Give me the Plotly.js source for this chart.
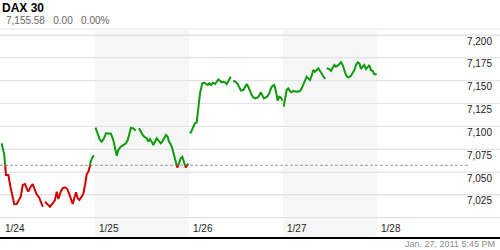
<!DOCTYPE html>
<html><head><meta charset="utf-8">
<script src="https://cdn.plot.ly/plotly-3.0.1.min.js"></script>
<style>html,body{margin:0;padding:0;background:#fff;} #chart{width:500px;height:250px;}</style>
</head><body><div id="chart"></div>
<script>
const chartTitle = 'DAX 30';
const quoteLine = '7,155.58&nbsp;&nbsp;&nbsp;0.00&nbsp;&nbsp;&nbsp;0.00%';
const timestamp = 'Jan. 27, 2011 5:45 PM';
const dayLabels = ['1/24', '1/25', '1/26', '1/27', '1/28'];
const prevClose = 7057.5;
const priceTicks = [7000, 7025, 7050, 7075, 7100, 7125, 7150, 7175, 7200];
const priceTickText = ['', '7,025', '7,050', '7,075', '7,100', '7,125', '7,150', '7,175', '7,200'];

// intraday data per day: time as fraction of the session, index level (null = gap)
const t24 = [0.007,0.035,0.053,0.078,0.103,0.131,0.141,0.167,0.191,0.210,0.231,0.255,0.273,0.290,0.316,0.337,0.354,0.380,0.407,0.426,0.444,null,0.468,0.493,0.521,0.546,0.574,0.593,0.610,0.635,0.656,0.681,0.705,0.727,0.745,0.763,0.780,0.798,0.816,0.833,0.859,0.876,0.894,0.912,0.929,0.939,0.954,0.971,0.989];
const p24 = [7081.5,7068.7,7046.8,7046.8,7032.6,7019.5,7014.8,7015.1,7019.5,7023.1,7035.9,7037.0,7032.3,7028.6,7034.0,7037.0,7032.3,7025.7,7022.0,7017.6,7012.1,null,7017.6,7015.1,7012.1,7015.1,7019.5,7028.6,7020.6,7028.6,7032.3,7033.4,7031.5,7025.7,7021.3,7015.1,7021.3,7027.9,7021.3,7019.5,7023.1,7026.8,7035.9,7047.6,7050.4,7055.9,7061.4,7065.8,7068.2];
const t25 = [0.005,0.024,0.053,0.071,0.096,0.117,0.141,0.170,0.195,0.213,0.231,0.248,0.273,0.301,0.330,0.348,0.365,0.383,0.407,0.433,null,0.468,0.486,0.507,0.524,0.550,0.567,0.585,0.603,0.620,0.638,0.656,0.681,0.699,0.716,0.734,0.755,0.773,0.787,0.805,0.822,0.840,0.858,0.876,0.894,0.912,0.929,0.947,0.965,0.982,0.995];
const p25 = [7098.6,7092.4,7085.1,7083.3,7087.0,7092.4,7092.4,7092.0,7085.1,7077.8,7067.9,7074.2,7077.8,7079.6,7081.5,7085.1,7092.4,7098.6,7097.9,7095.3,null,7097.9,7094.2,7090.6,7088.7,7087.0,7083.3,7086.2,7083.3,7079.6,7083.3,7087.0,7084.0,7081.5,7083.3,7087.0,7090.6,7088.7,7083.3,7080.4,7076.0,7068.7,7061.4,7055.0,7059.6,7065.1,7066.8,7061.4,7055.0,7057.8,7059.2];
const t26 = [0.005,0.021,0.046,0.064,0.082,0.099,0.117,0.141,0.163,0.181,0.199,0.216,0.234,0.255,0.277,0.295,0.312,0.330,0.348,0.365,0.383,0.401,0.418,0.444,null,0.471,0.497,0.518,0.535,0.553,0.578,0.596,0.614,0.631,0.649,0.667,0.684,0.710,0.731,0.745,0.763,0.780,0.798,0.819,0.837,0.854,0.872,0.890,0.907,0.926,0.944,0.961,0.979,0.993];
const p26 = [7093.3,7093.4,7099.7,7103.4,7104.5,7121.6,7136.2,7147.2,7147.8,7146.4,7145.3,7147.2,7145.3,7147.8,7146.4,7148.9,7151.5,7150.0,7148.2,7148.9,7148.2,7146.4,7150.0,7154.4,null,7150.0,7148.9,7146.4,7143.4,7139.1,7139.8,7142.8,7146.4,7143.4,7138.0,7134.4,7131.8,7130.7,7131.8,7133.3,7137.3,7133.3,7130.7,7131.8,7133.3,7136.2,7141.7,7144.5,7145.3,7138.0,7128.1,7132.5,7131.4,7128.1];
const t27 = [0.007,0.021,0.039,0.056,0.074,0.093,0.110,0.146,0.181,0.199,0.216,0.234,0.252,0.269,0.287,0.305,0.322,0.340,0.359,0.376,0.394,0.412,0.429,0.447,null,0.465,0.493,0.511,0.529,0.546,0.564,0.582,0.599,0.617,0.635,0.652,0.670,0.688,0.705,0.723,0.741,0.759,0.777,0.795,0.812,0.830,0.848,0.865,0.883,0.901,0.918,0.936,0.954,0.971,0.997];
const p27 = [7121.6,7130.7,7139.8,7141.7,7138.7,7137.3,7138.7,7138.0,7138.7,7141.7,7146.1,7149.7,7154.4,7152.6,7150.8,7155.5,7161.7,7159.8,7161.7,7163.6,7160.6,7158.1,7155.5,7151.9,null,7163.6,7162.8,7160.9,7163.6,7167.2,7165.3,7166.4,7167.9,7170.8,7167.2,7161.7,7156.2,7153.7,7153.7,7155.5,7158.1,7161.7,7167.2,7170.1,7169.0,7162.8,7165.3,7167.2,7162.8,7165.3,7167.2,7161.7,7160.6,7157.0,7157.0];

const days = [[t24, p24], [t25, p25], [t26, p26], [t27, p27]];
const xs = [], ys = [];
days.forEach(([t, p], d) => {
  t.forEach((v, i) => { xs.push(v === null ? null : d + v); ys.push(p[i]); });
  xs.push(null); ys.push(null);
});

const yMin = 6979.0, yMax = 7206.6;
const split = (prevClose - yMin) / (yMax - yMin);
const dayPx = 94, plotW = 500;
const x0 = -1 / dayPx, x1 = x0 + plotW / dayPx;

const GREEN = '#0e990e', RED = '#d00000';
const FONT = 'Liberation Sans, Arial, sans-serif';

const traces = [
  {x: [], y: [], xaxis: 'x', yaxis: 'y', type: 'scatter', mode: 'lines', hoverinfo: 'skip', showlegend: false},
  {x: xs, y: ys, xaxis: 'x', yaxis: 'y2', type: 'scatter', mode: 'lines', line: {color: GREEN, width: 2}, connectgaps: false, hoverinfo: 'skip', showlegend: false},
  {x: xs, y: ys, xaxis: 'x', yaxis: 'y3', type: 'scatter', mode: 'lines', line: {color: RED, width: 2}, connectgaps: false, hoverinfo: 'skip', showlegend: false}
];

const bandColor = '#f6f6f6';
const gridShapes = priceTicks.map(v => ({
  type: 'line', xref: 'paper', yref: 'y', x0: 0, x1: 1, y0: v, y1: v,
  line: {color: '#e4e4e4', width: 1}, layer: 'between'
}));
const shapes = [
  {type: 'rect', xref: 'x', yref: 'paper', x0: 1, x1: 2, y0: 0, y1: 1, fillcolor: bandColor, line: {width: 0}, layer: 'below'},
  {type: 'rect', xref: 'x', yref: 'paper', x0: 3, x1: 4, y0: 0, y1: 1, fillcolor: bandColor, line: {width: 0}, layer: 'below'},
  {type: 'line', xref: 'paper', yref: 'paper', x0: 0, x1: 1, y0: 1, y1: 1, line: {color: '#e6e6e6', width: 1}, layer: 'below'}
].concat(gridShapes, [
  {type: 'line', xref: 'paper', yref: 'y', x0: 0, x1: 0.938, y0: prevClose, y1: prevClose, line: {color: '#999999', width: 1, dash: '3px,2px'}, layer: 'between'}
]);

const dayLabelAnnotations = dayLabels.map((lab, i) => ({
  text: lab, xref: 'x', yref: 'paper', x: i, xanchor: 'left', xshift: 2,
  y: 9 / 208, yanchor: 'middle', showarrow: false,
  font: {family: FONT, size: 10, color: '#222'}
}));

const layout = {
  width: 500, height: 250,
  margin: {l: 0, r: 0, t: 29, b: 13, pad: 0},
  paper_bgcolor: '#ffffff', plot_bgcolor: 'rgba(0,0,0,0)',
  showlegend: false,
  font: {family: FONT, size: 10, color: '#222'},
  title: {text: '<b>' + chartTitle + '</b>', x: 0.004, xanchor: 'left', xref: 'container', y: 1 - 8 / 250, yanchor: 'middle', yref: 'container', font: {family: FONT, size: 12, color: '#000'}},
  xaxis: {
    range: [x0, x1], showgrid: false, zeroline: false,
    showticklabels: false, ticks: '',
    showline: true, linecolor: '#000', linewidth: 2, anchor: 'y', fixedrange: true
  },
  yaxis: {
    range: [yMin, yMax], side: 'right', domain: [0, 1], anchor: 'x',
    tickvals: priceTicks, ticktext: priceTickText, ticks: '',
    ticklabelposition: 'inside', ticklabelshift: 6, ticklabelstandoff: 5,
    tickfont: {family: FONT, size: 10, color: '#222'},
    showgrid: true, gridcolor: '#e4e4e4', gridwidth: 1, zeroline: false, showline: false, fixedrange: true
  },
  yaxis2: {range: [prevClose, yMax], domain: [split, 1], anchor: 'x', visible: false, showgrid: false, zeroline: false, fixedrange: true},
  yaxis3: {range: [yMin, prevClose], domain: [0, split], anchor: 'x', visible: false, showgrid: false, zeroline: false, fixedrange: true},
  shapes: shapes,
  annotations: dayLabelAnnotations.concat([
    {text: quoteLine, xref: 'paper', yref: 'paper', x: 0.008, xanchor: 'left', y: (237 - 21) / 208, yanchor: 'middle', showarrow: false, font: {family: FONT, size: 10, color: '#666'}},
    {text: timestamp, xref: 'paper', yref: 'paper', x: 0.994, xanchor: 'right', y: (237 - 244) / 208, yanchor: 'middle', showarrow: false, font: {family: FONT, size: 9, color: '#8a8a8a'}}
  ])
};

Plotly.newPlot('chart', traces, layout, {staticPlot: true, displayModeBar: false});
</script></body></html>
